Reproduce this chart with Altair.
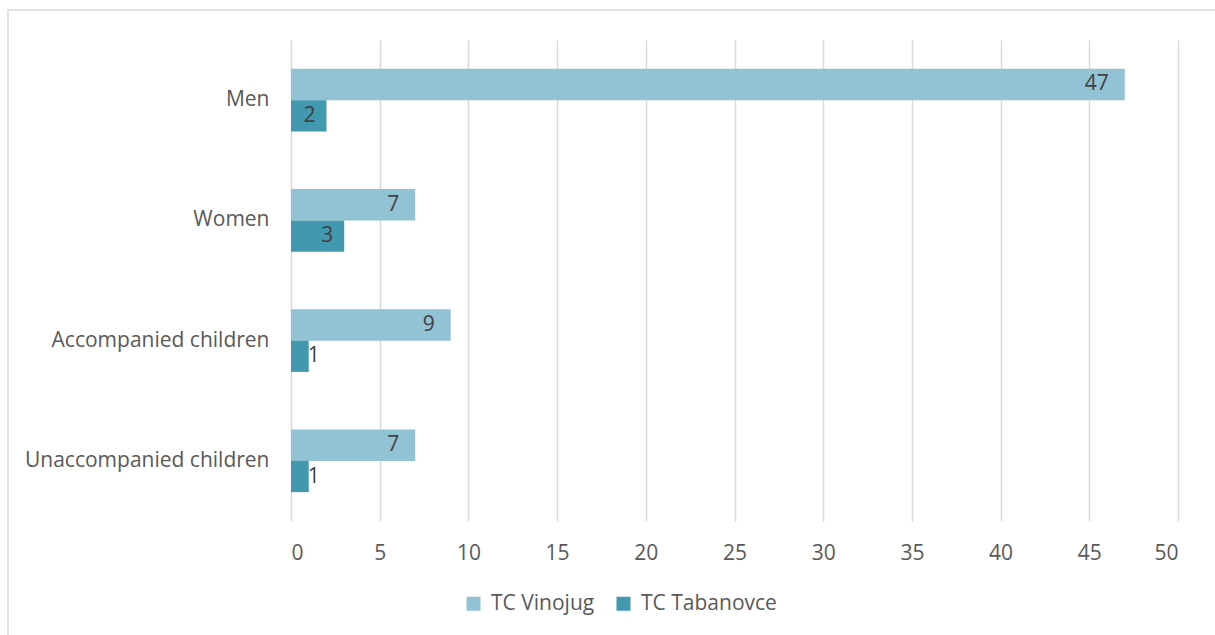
import altair as alt
import pandas as pd

# Persons registered in the two transit centres, by group
categories = ["Men", "Women", "Accompanied children", "Unaccompanied children"]
vinojug = [47, 7, 9, 7]
tabanovce = [2, 3, 1, 1]
series = ["TC Vinojug", "TC Tabanovce"]
colors = ["#92C3D4", "#4198AF"]
x_ticks = list(range(0, 51, 5))

rows = []
for cat, v, t in zip(categories, vinojug, tabanovce):
    rows.append({"group": cat, "site": series[0], "count": v})
    rows.append({"group": cat, "site": series[1], "count": t})
df = pd.DataFrame(rows)

FONT = "Open Sans"
AXIS_TEXT = "#595959"
LABEL_TEXT = "#404040"
GRID = "#d9d9d9"

y_enc = alt.Y(
    "group:N",
    sort=categories,
    scale=alt.Scale(paddingInner=0.48, paddingOuter=0.24),
    axis=alt.Axis(title=None, ticks=False, domain=False, labelPadding=22,
                  labelFontSize=21, labelColor=AXIS_TEXT, labelFont=FONT,
                  labelLimit=400),
)
x_enc = alt.X(
    "count:Q",
    scale=alt.Scale(domain=[0, 50], nice=False),
    axis=alt.Axis(values=x_ticks, title=None, ticks=False, domain=False,
                  grid=True, gridColor=GRID, gridWidth=1.5, labelPadding=21,
                  labelFontSize=21, labelColor=AXIS_TEXT, labelFont=FONT),
)
y_off = alt.YOffset("site:N", sort=series)
color = alt.Color(
    "site:N",
    sort=series,
    scale=alt.Scale(domain=series, range=colors),
    legend=alt.Legend(title=None, orient="none", direction="horizontal",
                      legendX=172, legendY=553, symbolType="square",
                      symbolSize=196, symbolStrokeWidth=0, labelOffset=7,
                      labelFontSize=21, labelColor=AXIS_TEXT, labelFont=FONT,
                      columnPadding=18),
)

bars = alt.Chart(df).mark_bar().encode(x=x_enc, y=y_enc, yOffset=y_off, color=color)

text_base = alt.Chart(df).encode(
    x=alt.X("count:Q"),
    y=alt.Y("group:N", sort=categories),
    yOffset=alt.YOffset("site:N", sort=series),
    text=alt.Text("count:Q"),
)
text_style = dict(baseline="middle", fontSize=21, font=FONT, color=LABEL_TEXT)
# value labels sit inside the bar end; very short bars get them just past the end
labels_v = text_base.transform_filter(f"datum.site == '{series[0]}'").mark_text(
    align="right", dx=-16, **text_style
)
labels_t = text_base.transform_filter(
    f"datum.site == '{series[1]}' && datum.count >= 2"
).mark_text(align="right", dx=-11, **text_style)
labels_short = text_base.transform_filter(
    f"datum.site == '{series[1]}' && datum.count < 2"
).mark_text(align="left", dx=-1, **text_style)

# thin outer frame around the whole chart
frame = alt.Chart(pd.DataFrame({"k": [0]})).mark_rect(
    filled=False, stroke=GRID, strokeWidth=1.5
).encode(
    x=alt.value(-283), x2=alt.value(940),
    y=alt.value(-30), y2=alt.value(620),
)

chart = alt.layer(frame, bars, labels_v, labels_t, labels_short).properties(
    width=887, height=481,
    autosize=alt.AutoSizeParams(type="none"),
    padding={"left": 291, "top": 40, "right": 37, "bottom": 114},
).configure(
    font=FONT,
    view=alt.ViewConfig(strokeWidth=0),
)

chart.save("out.html", embed_options={"renderer": "svg", "actions": False})
